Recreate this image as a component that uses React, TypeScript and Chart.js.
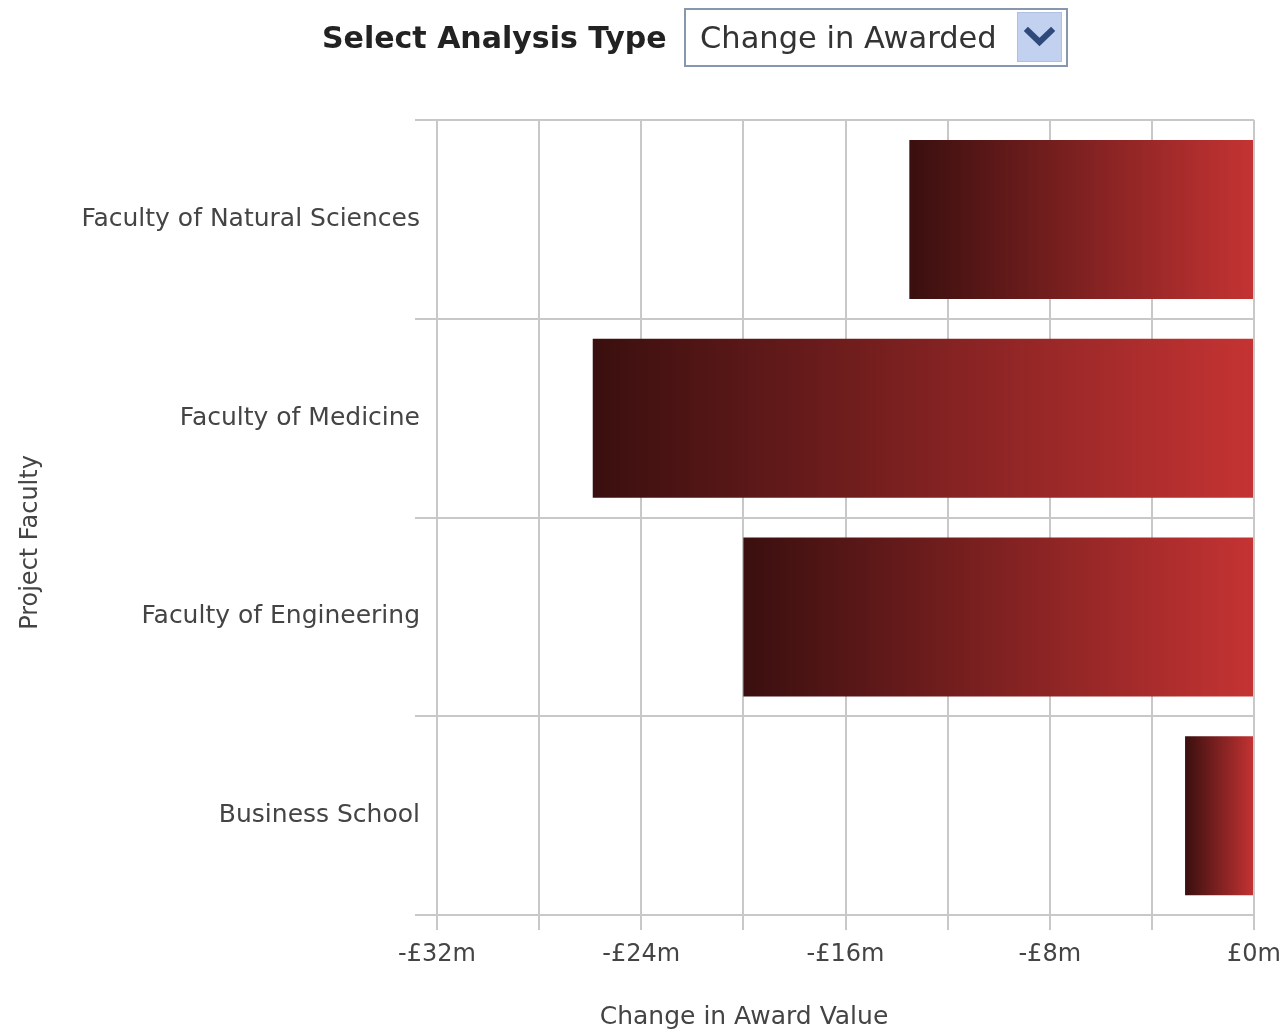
import React, { useEffect, useRef } from 'react';
import { Chart, registerables } from 'chart.js';

Chart.register(...registerables);

// ---- Data ----
const categories = [
  'Faculty of Natural Sciences',
  'Faculty of Medicine',
  'Faculty of Engineering',
  'Business School',
];
const changeValues = [-13.5, -25.9, -20.0, -2.7];
const xTickValues = [-32, -24, -16, -8, 0];
const xTickLabels = ['-£32m', '-£24m', '-£16m', '-£8m', '£0m'];
const xAxisTitle = 'Change in Award Value';
const yAxisTitle = 'Project Faculty';
const selectLabel = 'Select Analysis Type';
const selectValue = 'Change in Awarded';

const FONT = '"DejaVu Sans", Verdana, sans-serif';
const TEXT = '#444444';
const GRID = '#c8c8c8';

const titlesPlugin = {
  id: 'customTitles',
  afterDraw(chart: any) {
    const { ctx, chartArea } = chart;
    if (!chartArea) return;
    ctx.save();
    ctx.fillStyle = TEXT;
    ctx.textAlign = 'center';
    ctx.textBaseline = 'middle';
    ctx.font = `25px ${FONT}`;
    ctx.fillText(xAxisTitle, chartArea.left + 307, chartArea.bottom + 102);
    ctx.font = `24px ${FONT}`;
    ctx.translate(31, (chartArea.top + chartArea.bottom) / 2 + 25);
    ctx.rotate(-Math.PI / 2);
    ctx.fillText(yAxisTitle, 0, 0);
    ctx.restore();
  },
};

export default function App() {
  const canvasRef = useRef<HTMLCanvasElement>(null);

  useEffect(() => {
    if (!canvasRef.current) return;
    const chart = new Chart(canvasRef.current, {
      type: 'bar',
      data: {
        labels: categories,
        datasets: [
          {
            data: changeValues,
            borderWidth: 0,
            barPercentage: 0.8,
            categoryPercentage: 1,
            backgroundColor: (c: any) => {
              const ch = c.chart;
              if (!ch.chartArea || c.type !== 'data') return '#8a2222';
              const xs = ch.scales.x;
              const x0 = xs.getPixelForValue(c.raw);
              const x1 = xs.getPixelForValue(0);
              const g = ch.ctx.createLinearGradient(x0, 0, x1, 0);
              g.addColorStop(0, '#3a0f0f');
              g.addColorStop(1, '#c53333');
              return g;
            },
          },
        ],
      },
      options: {
        indexAxis: 'y',
        responsive: true,
        maintainAspectRatio: false,
        animation: false,
        layout: { padding: { top: 120, right: 33, left: 0, bottom: 0 } },
        plugins: {
          legend: { display: false },
          tooltip: { enabled: false },
        },
        scales: {
          x: {
            type: 'linear',
            min: -32,
            max: 0,
            afterFit: (s: any) => {
              s.height = 115;
              s.paddingRight = 0;
              s.paddingLeft = 0;
            },
            ticks: {
              stepSize: 4,
              autoSkip: false,
              maxRotation: 0,
              padding: 10,
              color: TEXT,
              font: { family: FONT, size: 24 },
              callback: (v: any) => {
                const i = xTickValues.indexOf(Number(v));
                return i >= 0 ? xTickLabels[i] : '';
              },
            },
            grid: { color: GRID, lineWidth: 2, tickLength: 15 },
            border: { display: true, color: GRID, width: 2 },
          },
          y: {
            type: 'category',
            afterFit: (s: any) => {
              s.width = 437;
            },
            ticks: {
              padding: -5,
              color: TEXT,
              font: { family: FONT, size: 25 },
            },
            grid: { color: GRID, lineWidth: 2, tickLength: 22, offset: true },
            border: { display: true, color: GRID, width: 2 },
          },
        },
      },
      plugins: [titlesPlugin],
    } as any);
    return () => chart.destroy();
  }, []);

  return (
    <div
      style={{
        position: 'absolute',
        left: 0,
        top: 0,
        width: 1287,
        height: 1030,
        background: '#ffffff',
        overflow: 'hidden',
      }}
    >
      <div style={{ position: 'absolute', left: 0, top: 0, width: 1287, height: 1030 }}>
        <canvas ref={canvasRef} />
      </div>
      <div
        style={{
          position: 'absolute',
          left: 322,
          top: 8,
          height: 60,
          lineHeight: '60px',
          fontFamily: FONT,
          fontWeight: 'bold',
          fontSize: 30,
          color: '#222222',
          whiteSpace: 'nowrap',
        }}
      >
        {selectLabel}
      </div>
      <div
        style={{
          position: 'absolute',
          left: 684,
          top: 8,
          width: 384,
          height: 59,
          boxSizing: 'border-box',
          border: '2px solid #8797ad',
          background: '#ffffff',
        }}
      >
        <div
          style={{
            position: 'absolute',
            left: 14,
            top: 0,
            height: 55,
            lineHeight: '55px',
            fontFamily: FONT,
            fontSize: 30.5,
            color: '#333333',
            whiteSpace: 'nowrap',
          }}
        >
          {selectValue}
        </div>
        <div
          style={{
            position: 'absolute',
            left: 331,
            top: 2,
            width: 45,
            height: 50,
            boxSizing: 'border-box',
            background: '#c3d1f1',
            border: '1px solid #b0bfe3',
          }}
        >
          <svg width="43" height="48" style={{ display: 'block' }}>
            <polyline
              points="10,18 21.5,29 33,18"
              fill="none"
              stroke="#2f4a7a"
              strokeWidth="6"
              strokeLinecap="square"
            />
          </svg>
        </div>
      </div>
    </div>
  );
}
